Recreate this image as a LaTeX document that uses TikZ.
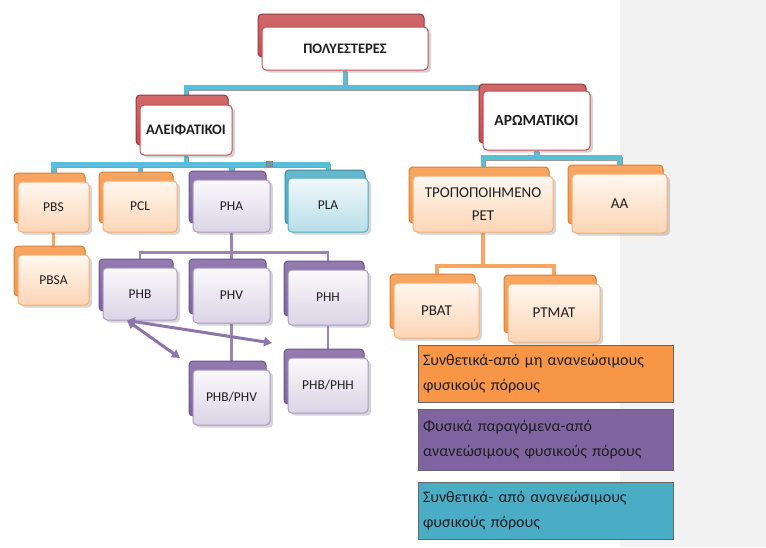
\documentclass[tikz,border=0pt]{standalone}
\usepackage{fontspec}
\setmainfont{Carlito}
\usepackage{tikz}
\usetikzlibrary{arrows.meta,positioning,shadows,backgrounds}
\definecolor{cardred}{RGB}{200,78,80}
\definecolor{cardorange}{RGB}{247,150,70}
\definecolor{cardpurple}{RGB}{128,100,162}
\definecolor{cardteal}{RGB}{75,172,198}
\definecolor{linkblue}{RGB}{88,190,218}
\definecolor{bggray}{RGB}{242,242,242}
\definecolor{cardtext}{RGB}{30,30,30}

\begin{document}
\begin{tikzpicture}[x=1pt, y=-1pt,
    card/.style={rectangle, rounded corners=4pt, line width=1pt,
                 minimum width=75pt, minimum height=52pt, inner sep=2pt,
                 align=center, text=cardtext, font=\fontsize{13.5}{23}\selectfont,
                 drop shadow={shadow xshift=3pt, shadow yshift=-2.5pt, opacity=0.16,
                              top color=black!60, bottom color=black!60, draw=none}},
    redcard/.style={card, draw=cardred, top color=white, bottom color=white,
                    font=\bfseries\fontsize{14.5}{17}\selectfont,
                    copy shadow={shadow xshift=-4pt, shadow yshift=#1,
                                 top color=cardred!85, bottom color=cardred,
                                 draw=cardred!75!black}},
    redcard/.default=10pt,
    orangecard/.style={card, draw=cardorange!75, top color=orange!6!white,
                       bottom color=cardorange!40,
                       copy shadow={shadow xshift=-4pt, shadow yshift=9pt,
                                    top color=cardorange!85, bottom color=cardorange,
                                    draw=cardorange!85!black}},
    purplecard/.style={card, draw=cardpurple!65, top color=cardpurple!4,
                       bottom color=cardpurple!28,
                       copy shadow={shadow xshift=-4pt, shadow yshift=9pt,
                                    top color=cardpurple!85, bottom color=cardpurple,
                                    draw=cardpurple!85!black}},
    tealcard/.style={card, draw=cardteal, top color=cardteal!8,
                     bottom color=cardteal!40,
                     copy shadow={shadow xshift=-3pt, shadow yshift=8pt,
                                  top color=cardteal!85, bottom color=cardteal,
                                  draw=cardteal!80!black}},
    bluelink/.style={line width=4.5pt, linkblue,
                     preaction={draw=black!40, line width=4.5pt,
                                transform canvas={shift={(1pt,-1.5pt)}}}},
    orangelink/.style={line width=4pt, cardorange!85},
    purplelink/.style={line width=2.2pt, cardpurple!80},
    dblarrow/.style={{Triangle[length=8pt,width=9pt]}-{Triangle[length=8pt,width=9pt]},
                     line width=3pt, cardpurple!90},
    legendbox/.style={rectangle, draw=black!60, line width=0.8pt,
                      minimum width=255pt, minimum height=57pt, text width=245pt,
                      inner sep=5pt, align=left, text=cardtext,
                      font=\fontsize{16}{25}\selectfont}
]
    \useasboundingbox (0,0) rectangle (766,547);

    % Headings
    \node[redcard=13pt, minimum width=166pt, minimum height=43pt] (root) at (345,48.5) {ΠΟΛΥΕΣΤΕΡΕΣ};
    \node[redcard, minimum width=92pt, minimum height=50pt] (aliph) at (186,130) {ΑΛΕΙΦΑΤΙΚΟΙ};
    \node[redcard=7pt, minimum width=107pt, minimum height=59pt, font=\bfseries\fontsize{15.5}{17}\selectfont] (arom) at (536.5,120.5) {ΑΡΩΜΑΤΙΚΟΙ};

    % Aliphatic row
    \node[orangecard, minimum width=71pt, minimum height=50pt] (pbs) at (53.5,207) {PBS};
    \node[orangecard, minimum width=74pt, minimum height=51pt] (pcl) at (140,206.5) {PCL};
    \node[purplecard, minimum width=77pt] (pha) at (231.5,206) {PHA};
    \node[tealcard, minimum width=80pt, minimum height=54pt] (pla) at (328,205) {PLA};
    \node[orangecard, minimum width=71pt, minimum height=50pt] (pbsa) at (53.5,280) {PBSA};

    % PHA family
    \node[purplecard, minimum width=74pt] (phb) at (140,294) {PHB};
    \node[purplecard, minimum width=77pt, minimum height=55pt] (phv) at (231.5,295.5) {PHV};
    \node[purplecard, minimum width=80pt, minimum height=55pt] (phh) at (328,297.5) {PHH};
    \node[purplecard, minimum width=77pt, minimum height=55pt] (phbv) at (231.5,397.5) {PHB/PHV};
    \node[purplecard, minimum width=80pt, minimum height=55pt] (phbh) at (328,385.5) {PHB/PHH};

    % Aromatic branch
    \node[orangecard, minimum width=140pt, minimum height=56pt, font=\fontsize{15}{23}\selectfont] (pet) at (483,204) {ΤΡΟΠΟΠΟΙΗΜΕΝΟ\\PET};
    \node[orangecard, minimum width=95pt, minimum height=59pt, font=\fontsize{15}{23}\selectfont] (aa) at (619.5,203.5) {AA};
    \node[orangecard, minimum width=85pt, minimum height=55pt, font=\fontsize{15}{23}\selectfont] (pbat) at (436.5,310.5) {PBAT};
    \node[orangecard, minimum width=92pt, minimum height=58pt, font=\fontsize{15}{23}\selectfont] (ptmat) at (554,313) {PTMAT};

    % Connectors
    \begin{scope}[on background layer]
        \fill[bggray] (620,0) rectangle (766,547);
        \draw[bluelink] (root.south) -- ++(0,17) coordinate (rootbar) -| (aliph.north);
        \draw[bluelink] (rootbar) -| (arom.north);
        \draw[bluelink] (aliph.south) -- ++(0,9) coordinate (aliphbar);
        \foreach \n in {pbs,pcl,pha,pla}
            \draw[bluelink] (aliphbar) -| (\n.north);
        \draw[bluelink] (arom.south) -- ++(0,7) coordinate (arombar);
        \foreach \n in {pet,aa}
            \draw[bluelink] (arombar) -| (\n.north);
        \draw[orangelink, line width=2.2pt] (pbs) -- (pbsa);
        \draw[orangelink] (pet.south) -- ++(0,33) coordinate (petbar);
        \foreach \n in {pbat,ptmat}
            \draw[orangelink] (petbar) -| (\n.north);
        \draw[purplelink] (pha.south) -- ++(0,20) coordinate (phabar);
        \foreach \n in {phb,phv,phh}
            \draw[purplelink] (phabar) -| (\n.north);
        \draw[purplelink] (phv) -- (phbv);
        \draw[purplelink] (phh) -- (phbh);
    \end{scope}
    \draw[fill=linkblue!45!gray, draw=gray] (266,161.5) rectangle (272,166.5);

    % Copolymer arrows
    \coordinate (phbfoot) at ([xshift=-13pt]phb.south);
    \coordinate (tobv) at (180,358);
    \coordinate (tobh) at (272,343);
    \draw[dblarrow] (phbfoot) -- (tobv);
    \draw[dblarrow] (phbfoot) -- (tobh);

    % Legend
    \node[legendbox, fill=cardorange] (keysyn) at (545.5,373.5) {Συνθετικά-από μη ανανεώσιμους\\φυσικούς πόρους};
    \node[legendbox, fill=cardpurple, minimum height=61pt] (keynat) at (545.5,439.5) {Φυσικά παραγόμενα-από\\ανανεώσιμους φυσικούς πόρους};
    \node[legendbox, fill=cardteal] (keyren) at (545.5,510.5) {Συνθετικά- από ανανεώσιμους\\φυσικούς πόρους};
\end{tikzpicture}
\end{document}
